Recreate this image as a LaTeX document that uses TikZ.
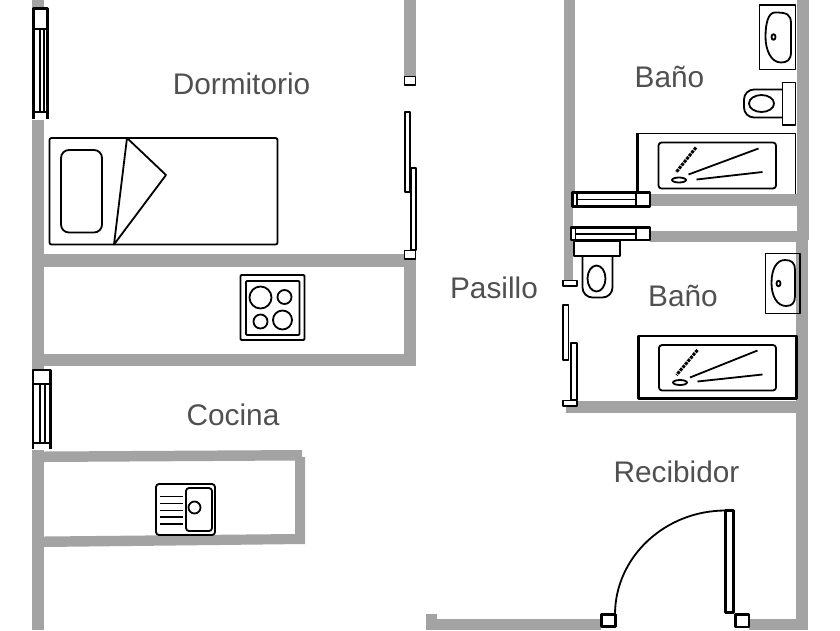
\documentclass[tikz,border=0pt]{standalone}
\usepackage{fontspec}
\setmainfont{Liberation Sans}
\definecolor{wallgray}{HTML}{A3A3A3}
\definecolor{labelgray}{HTML}{505050}
\tikzset{
  wall/.style={fill=wallgray,draw=none},
  fixture/.style={draw=black,line width=2.3pt,fill=white,line join=round},
  thin fixture/.style={draw=black,line width=1.8pt,line join=round},
  roomlabel/.style={text=labelgray,inner sep=0pt,anchor=base,font=\fontsize{29.8}{31}\selectfont}
}
\begin{document}
\begin{tikzpicture}[x=1pt,y=-1pt]
\useasboundingbox (0,0) rectangle (840,630);
% walls left
\fill[wall] (32,0) rectangle (44,8);
\fill[wall] (32,120) rectangle (44,370);
\fill[wall] (32,450) rectangle (44,630);
% walls dormitorio
\fill[wall] (404,0) rectangle (416,76);
\fill[wall] (404,259) rectangle (416,366);
\fill[wall] (44,254) rectangle (404,266.5);
\fill[wall] (32,354) rectangle (416,366);
% walls cocina
\fill[wall] (44,451.5) -- (302,450) -- (302,457) -- (305,457) -- (305,544) -- (44,547) -- (44,536.5) -- (295,534) -- (295,460.5) -- (44,462) -- cycle;
% walls banos
\fill[wall] (564,0) rectangle (575,192);
\fill[wall] (563.5,192) rectangle (573,280);
\fill[wall] (797,0) rectangle (809,240);
\fill[wall] (796,240) rectangle (807.5,630);
\fill[wall] (650,193.5) rectangle (797,206);
\fill[wall] (650,230.5) rectangle (797,241.5);
\fill[wall] (565.5,401) rectangle (796,412.5);
% walls recibidor
\fill[wall] (426,614) rectangle (436.5,630);
\fill[wall] (436.5,619) rectangle (601,630);
\fill[wall] (749,619) rectangle (796,630);
% window top left
\fill[white] (33.5,8.5) rectangle (47.5,119);
\draw[fixture] (33.5,119) -- (33.5,8.5) -- (47.5,8.5) -- (47.5,119);
\draw[fixture] (33.5,29) -- (47.5,29);
\draw[thin fixture] (33.5,112) -- (47.5,112);
\draw[thin fixture] (40,29) -- (40,112);
\draw[thin fixture] (44,29) -- (44,112);
% window cocina
\fill[white] (33,370) rectangle (50.5,449);
\draw[fixture] (33,449) -- (33,370) -- (50.5,370) -- (50.5,449);
\draw[fixture] (33,384) -- (50.5,384);
\draw[thin fixture] (33,443) -- (50.5,443);
\draw[thin fixture] (40,384) -- (40,443);
\draw[thin fixture] (45,384) -- (45,443);
% window top bano
\draw[fixture] (572.5,192.5) rectangle (650,206.5);
\draw[thin fixture] (636,192) -- (636,207);
\draw[thin fixture] (577,192) -- (577,207);
\draw[thin fixture] (577,199.5) -- (636,199.5);
% window bottom bano
\draw[fixture] (571,227.5) rectangle (650,240);
\draw[thin fixture] (636,227) -- (636,240);
\draw[thin fixture] (575.5,227) -- (575.5,240);
\draw[thin fixture] (575.5,234) -- (636,234);
% door dormitorio
\draw[thin fixture,fill=white] (404.5,76.5) rectangle (415.5,85);
\draw[thin fixture,fill=white] (405,112) rectangle (410,192);
\draw[thin fixture,fill=white] (411,168) rectangle (416,250);
\draw[thin fixture,fill=white] (404.5,250.5) rectangle (415.5,259);
% bed
\draw[thin fixture,rounded corners=2pt] (49.5,138) rectangle (277.5,244.5);
\draw[thin fixture,rounded corners=8pt] (61,150) rectangle (102,232.5);
\draw[thin fixture] (127,138) -- (166,175) -- (114,244.5) -- cycle;
% cooker
\draw[thin fixture,rounded corners=1pt] (240.5,275) rectangle (304.5,340);
\draw[thin fixture,rounded corners=1pt] (246,281) rectangle (299.5,335);
\draw[thin fixture] (260.5,297.5) circle[radius=11];
\draw[thin fixture] (284.5,297) circle[radius=7];
\draw[thin fixture] (260.5,321.5) circle[radius=7];
\draw[thin fixture] (282.5,320) circle[radius=9.5];
% sink cocina
\draw[thin fixture,rounded corners=3pt] (156,484) rectangle (215,535);
\draw[thin fixture,rounded corners=3pt] (186,488) rectangle (212,531);
\draw[thin fixture] (194.5,507.5) circle[radius=6];
\draw[thin fixture] (160,496.5) -- (183,496.5);
\draw[thin fixture] (160,503.5) -- (183,503.5);
\draw[thin fixture] (160,510.5) -- (183,510.5);
\draw[thin fixture] (160,517) -- (183,517);
\draw[thin fixture] (160,524) -- (183,524);
% sink top bano
\draw[thin fixture] (759.5,5) rectangle (795.5,69.5);
\draw[thin fixture] (775,12.5) .. controls (787,12.5) and (791,14) .. (791,24) -- (791,52) .. controls (791,60) and (787,62.5) .. (781,62.5) .. controls (771,62.5) and (765.5,50) .. (765.5,37) .. controls (765.5,24) and (768,12.5) .. (775,12.5);
\draw[thin fixture] (773.5,37) ellipse[x radius=2,y radius=2.8];
% toilet top bano
\draw[thin fixture] (782.5,82.5) rectangle (795.5,125);
\draw[thin fixture,rounded corners=10pt] (782.5,89.5) -- (744,89.5) -- (744,117.5) -- (782.5,117.5);
\draw[thin fixture] (761.5,103.5) ellipse[x radius=12.5,y radius=8.5];
% bath top bano
\draw[thin fixture] (637.5,133.5) -- (795.5,133.5) -- (795.5,194);
\draw[fixture] (637.5,192) -- (637.5,133);
\draw[thin fixture,rounded corners=3pt] (658.5,142.5) rectangle (776,188.5);
\draw[thin fixture] (758.5,148.5) -- (688.5,174.5);
\draw[thin fixture] (762.5,172) -- (696.5,179.5);
\draw[line width=3pt,dash pattern=on 3pt off 1pt] (696,147.5) -- (676,172.5);
\draw[thin fixture] (679,180) ellipse[x radius=7,y radius=2.5];
% sink bottom bano
\draw[thin fixture] (765.5,253.5) rectangle (800,313.5);
\draw[thin fixture] (785,260) .. controls (792,260) and (795,263) .. (795,270) -- (795,296) .. controls (795,303) and (792,306) .. (786,306) .. controls (777,306) and (771.5,296) .. (771.5,283) .. controls (771.5,270) and (776,260) .. (785,260);
\draw[thin fixture] (778.5,283.5) ellipse[x radius=2,y radius=2.8];
% toilet bottom bano
\draw[thin fixture] (574,241) rectangle (620,256);
\draw[thin fixture,rounded corners=10pt] (582.5,256) -- (582.5,297.5) -- (612.5,297.5) -- (612.5,256);
\draw[thin fixture] (596.5,278.5) ellipse[x radius=9,y radius=13];
% bath bottom bano
\draw[fixture] (638.5,336) rectangle (796.5,398.5);
\draw[thin fixture,rounded corners=3pt] (659,345) rectangle (776,390.5);
\draw[thin fixture] (757.5,350.5) -- (690,377.5);
\draw[thin fixture] (762.5,374.5) -- (697.5,381.5);
\draw[line width=3pt,dash pattern=on 3pt off 1pt] (697.5,350) -- (676.5,375);
\draw[thin fixture] (680,382.5) ellipse[x radius=7,y radius=2.5];
% door bano
\draw[thin fixture,fill=white] (563,280.5) rectangle (577,286);
\draw[thin fixture,fill=white] (563,305) rectangle (568.5,360);
\draw[thin fixture,fill=white] (571,343) rectangle (577,400);
\draw[thin fixture,fill=white] (563,400.5) rectangle (577,406);
% door recibidor
\draw[fixture] (601.5,614.5) rectangle (615.5,626.5);
\draw[fixture] (735.5,614.5) rectangle (749,627);
\draw[fixture] (725.5,510.5) rectangle (733.5,612.5);
\draw[thin fixture] (615,614.5) .. controls (615,557) and (665,510.5) .. (725.5,510.5);
% labels
\node[roomlabel] (dormitorio) at (241.5,94) {Dormitorio};
\node[roomlabel] (cocina) at (233,425) {Cocina};
\node[roomlabel] (banotop) at (669.5,87.5) {Baño};
\node[roomlabel] (banobot) at (683,306.5) {Baño};
\node[roomlabel] (pasillo) at (494,298) {Pasillo};
\node[roomlabel] (recibidor) at (676.5,482) {Recibidor};
\end{tikzpicture}
\end{document}
